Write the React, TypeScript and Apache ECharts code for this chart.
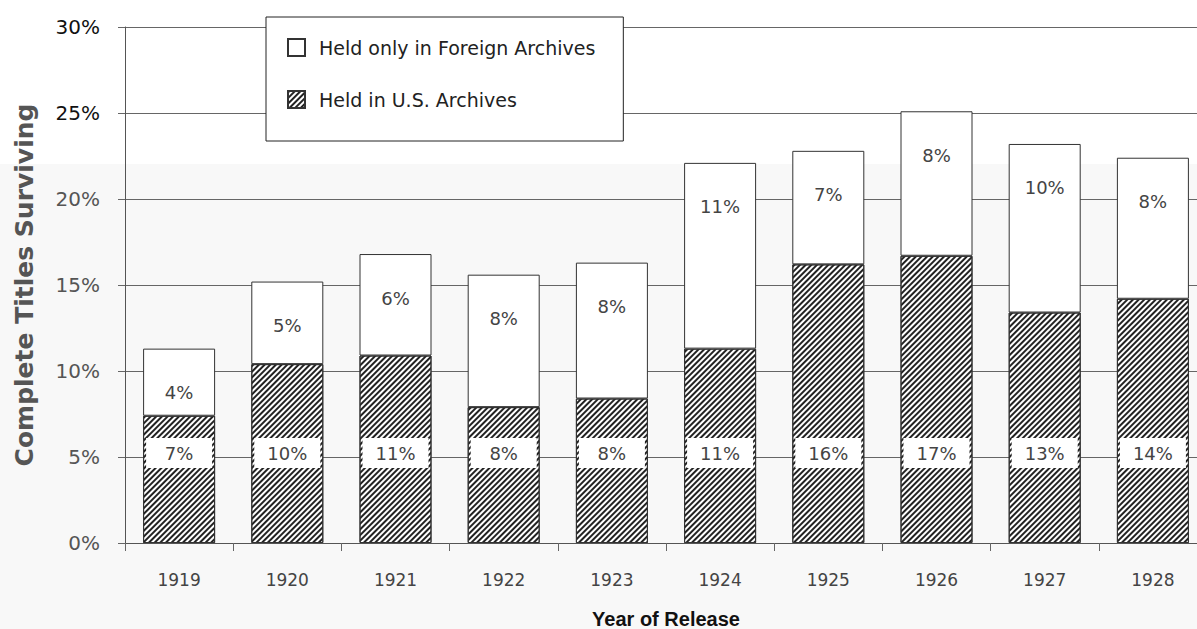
import React, { useEffect, useRef } from "react";
import * as echarts from "echarts";

const years = ["1919", "1920", "1921", "1922", "1923", "1924", "1925", "1926", "1927", "1928"];
const usArchives = [7.4, 10.4, 10.9, 7.9, 8.4, 11.3, 16.2, 16.7, 13.4, 14.2];
const foreignOnly = [3.9, 4.8, 5.9, 7.7, 7.9, 10.8, 6.6, 8.4, 9.8, 8.2];
const yTicks = [0, 5, 10, 15, 20, 25, 30];

const FONT = "'DejaVu Sans', 'Liberation Sans', Arial, sans-serif";
const FONT_B = "'Liberation Sans', Arial, sans-serif";

export default function App() {
  const ref = useRef<HTMLDivElement>(null);
  useEffect(() => {
    if (!ref.current) return;
    const chart = echarts.init(ref.current, null, { renderer: "svg" });
    chart.setOption({
      animation: false,
      backgroundColor: "#ffffff",
      textStyle: { fontFamily: FONT },
      graphic: [
        {
          type: "rect",
          z: -10,
          silent: true,
          shape: { x: 0, y: 164, width: 1197, height: 465 },
          style: { fill: "#f8f8f8" },
        },
      ],
      grid: { left: 125, right: -10, top: 27, bottom: 86, containLabel: false, outerBoundsMode: "none" },
      legend: {
        left: 266,
        top: 17,
        orient: "vertical",
        data: ["Held only in Foreign Archives", "Held in U.S. Archives"],
        backgroundColor: "#ffffff",
        borderColor: "#222",
        borderWidth: 1,
        padding: [21, 28, 32, 21],
        itemGap: 33,
        itemWidth: 17,
        itemHeight: 17,
        icon: "rect",
        textStyle: { fontSize: 19, color: "#222", fontFamily: FONT, padding: [0, 0, 0, 9] },
        z: 10,
      },
      xAxis: {
        type: "category",
        data: years,
        name: "Year of Release",
        nameLocation: "middle",
        nameGap: 66,
        nameTextStyle: { fontSize: 20, fontWeight: "bold", color: "#111", fontFamily: FONT_B },
        axisLine: { show: true, lineStyle: { color: "#555", width: 1 } },
        axisTick: { show: true, length: 8, lineStyle: { color: "#666" } },
        axisLabel: { fontSize: 17, color: "#444", margin: 28, fontFamily: FONT },
      },
      yAxis: {
        type: "value",
        min: 0,
        max: 30,
        interval: 5,
        name: "Complete Titles Surviving",
        nameLocation: "middle",
        nameGap: 88,
        nameTextStyle: { fontSize: 25, fontWeight: "bold", color: "#555", fontFamily: FONT },
        axisLine: { show: true, lineStyle: { color: "#555", width: 1 } },
        axisTick: { show: true, length: 7, lineStyle: { color: "#666" } },
        axisLabel: {
          fontSize: 20,
          margin: 25,
          fontFamily: FONT,
          color: (v: any) => (Number(v) >= 25 ? "#111" : "#555"),
          formatter: (v: number) => (yTicks.includes(v) ? v + "%" : ""),
        },
        splitLine: { show: true, lineStyle: { color: "#666", width: 1 } },
      },
      series: [
        {
          name: "Held in U.S. Archives",
          type: "bar",
          stack: "total",
          data: usArchives,
          barWidth: 72,
          itemStyle: {
            color: "#ffffff",
            borderColor: "#333",
            borderWidth: 1,
            decal: {
              symbol: "rect",
              symbolSize: 1,
              dashArrayX: [1, 0],
              dashArrayY: [1.4, 1.1],
              rotation: -Math.PI / 4,
              color: "#222222",
            },
          },
          label: {
            show: true,
            position: "insideBottom",
            distance: 75,
            formatter: (p: any) => Math.round(p.value) + "%",
            fontSize: 18,
            color: "#444",
            fontFamily: FONT,
            backgroundColor: "#ffffff",
            width: 54,
            align: "center",
            padding: [6, 6],
          },
        },
        {
          name: "Held only in Foreign Archives",
          type: "bar",
          stack: "total",
          data: foreignOnly,
          barWidth: 72,
          itemStyle: { color: "#ffffff", borderColor: "#333", borderWidth: 1 },
          label: {
            show: true,
            position: "insideTop",
            distance: 35,
            formatter: (p: any) => Math.round(p.value) + "%",
            fontSize: 18,
            color: "#444",
            fontFamily: FONT,
          },
        },
      ],
    });
    return () => chart.dispose();
  }, []);
  return <div ref={ref} style={{ width: 1197, height: 629, position: "absolute", left: 0, top: 0 }} />;
}
